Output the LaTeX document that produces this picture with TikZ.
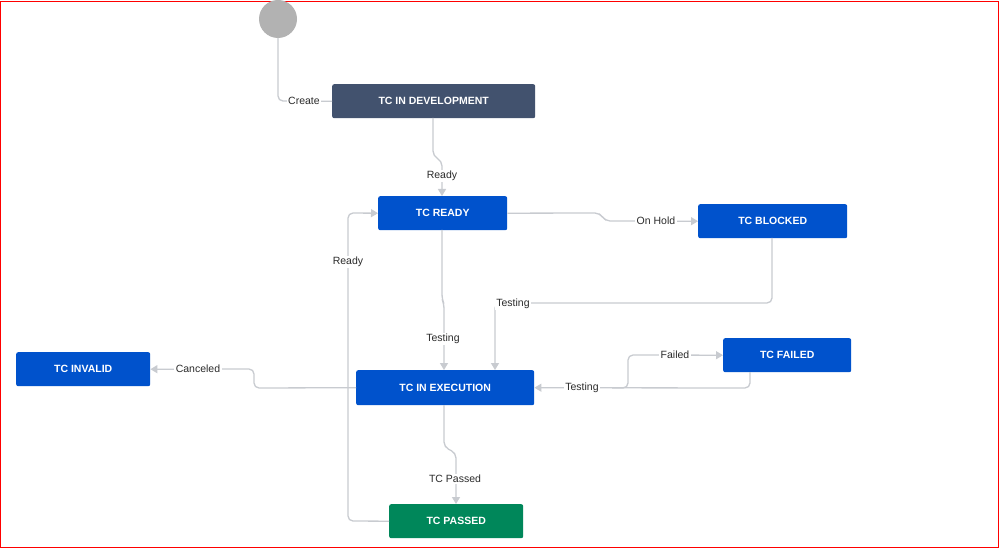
\documentclass[tikz,border=0pt]{standalone}
\usepackage{fontspec}
\setmainfont{Liberation Sans}
\usetikzlibrary{arrows.meta}
\definecolor{edge}{HTML}{C8CBD0}
\definecolor{txt}{HTML}{2B2B2B}
\definecolor{blu}{HTML}{0052CC}
\definecolor{dev}{HTML}{42526E}
\definecolor{grn}{HTML}{00875A}
\tikzset{
  st/.style={draw=none,rounded corners=2pt,text=white,font=\bfseries\fontsize{10.5}{12}\selectfont,inner sep=0pt,anchor=north west},
  lab/.style={fill=white,text=txt,font=\fontsize{10.5}{12}\selectfont,inner sep=1.5pt},
  ed/.style={draw=edge,line width=1.3pt,rounded corners=5pt},
  ar/.style={ed,-{Triangle[length=7pt,width=8pt]}},
}
\begin{document}
\begin{tikzpicture}[x=1pt,y=-1pt]
\draw[red,line width=1pt,fill=white] (0.5,0.5) rectangle (998.5,546.5);
\fill[gray!60] (278,18) circle (19);
\node[st,fill=dev,minimum width=203,minimum height=34] (dev) at (332,83) {TC IN DEVELOPMENT};
\node[st,fill=blu,minimum width=129,minimum height=34] (ready) at (378,195) {TC READY};
\node[st,fill=blu,minimum width=149,minimum height=34] (blocked) at (698,203) {TC BLOCKED};
\node[st,fill=blu,minimum width=134,minimum height=34] (invalid) at (16,351) {TC INVALID};
\node[st,fill=blu,minimum width=178,minimum height=35] (exec) at (356,369) {TC IN EXECUTION};
\node[st,fill=blu,minimum width=128,minimum height=34] (failed) at (723,337) {TC FAILED};
\node[st,fill=grn,minimum width=134,minimum height=34] (passed) at (389,503) {TC PASSED};
% Create
\draw[ed] (278,37) -- (278,100) -- (dev.west);
\node[lab] (lcreate) at (304,100) {Create};
% Ready
\draw[ar] (433,117) -- (433,155) -- (442,160) -- (442,195);
\node[lab] (lready) at (442,175) {Ready};
% On Hold
\draw[ar] (ready.east) -- (600,212) -- (605,220) -- (blocked.west);
\node[lab] (lhold) at (656,220) {On Hold};
% Testing from blocked
\draw[ar] (772,237) -- (772,302) -- (495,302) -- (495,369);
\node[lab] (lt1) at (513,303) {Testing};
% Testing from ready
\draw[ar] (442,229) -- (442,298) -- (444,303) -- (444,369);
\node[lab] (lt2) at (443,338) {Testing};
% Canceled
\draw[ar] (exec.west) -- (254,387) -- (254,368) -- (invalid.east);
\node[lab] (lcan) at (198,368) {Canceled};
% Testing from failed
\draw[ar] (750,371) -- (750,387) -- (exec.east);
\node[lab] (lt3) at (582,387) {Testing};
% Failed
\draw[ar] (612,387) -- (628,387) -- (628,354) -- (failed.west);
\node[lab] (lfail) at (675,354) {Failed};
% TC Passed
\draw[ar] (444,404) -- (444,446) -- (456,452) -- (456,503);
\node[lab] (lpass) at (455,478) {TC Passed};
% Ready back
\draw[ar] (passed.west) -- (348,520) -- (348,212) -- (ready.west);
\node[lab] (lready2) at (348,261) {Ready};
\end{tikzpicture}
\end{document}
